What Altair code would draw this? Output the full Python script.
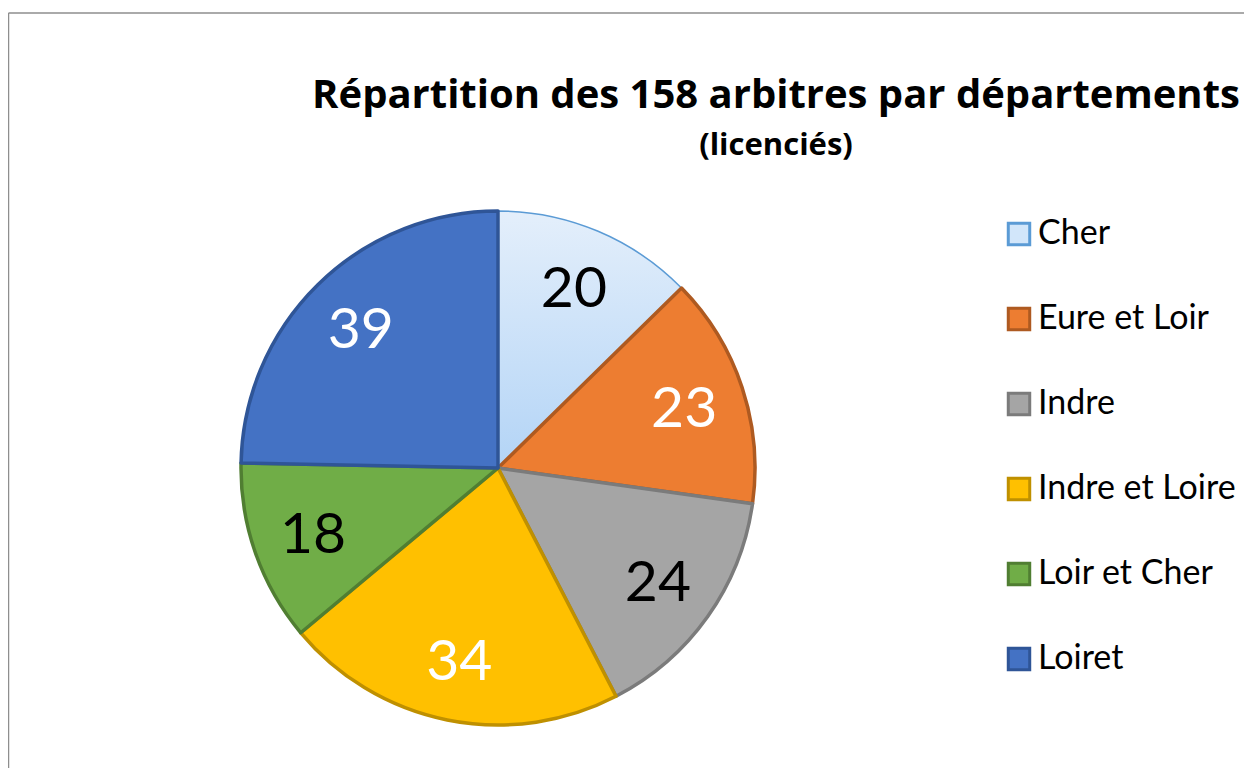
import altair as alt
import pandas as pd

departements = ["Cher", "Eure et Loir", "Indre", "Indre et Loire", "Loir et Cher", "Loiret"]
arbitres = [20, 23, 24, 34, 18, 39]
fill_colors = ["#D2E6FA", "#ED7D31", "#A5A5A5", "#FFC000", "#70AD47", "#4472C4"]
stroke_colors = ["#5B9BD5", "#AE5A21", "#7B7B7B", "#BF9000", "#507E32", "#2F5597"]
label_white = ["Eure et Loir", "Indre et Loire", "Loiret"]
title_lines = ["Répartition des 158 arbitres par départements"]
subtitle_lines = ["(licenciés)"]

FONT = "Lato"
TITLE_FONT = "Open Sans"

df = pd.DataFrame({
    "dept": departements,
    "n": arbitres,
    "idx": list(range(len(departements))),
})

cher_gradient = {
    "gradient": "linear",
    "x1": 0, "y1": 0, "x2": 0, "y2": 1,
    "stops": [
        {"offset": 0, "color": "#E4EFFB"},
        {"offset": 1, "color": "#B3D4F6"},
    ],
}

CX, CY, R = 490, 460, 257

base = alt.Chart(df)

fill_enc = alt.condition(
    alt.datum.dept == "Cher",
    alt.value(cher_gradient),
    alt.Fill(
        "dept:N",
        scale=alt.Scale(domain=departements, range=fill_colors),
        legend=alt.Legend(
            title=None,
            orient="none",
            legendX=994,
            legendY=209,
            symbolType="square",
            symbolSize=460,
            symbolStrokeWidth=3,
            labelFont=FONT,
            labelFontSize=34,
            labelColor="#000000",
            labelOffset=2,
            rowPadding=51,
            padding=0,
            labelLimit=400,
        ),
    ),
)

arcs = base.mark_arc(outerRadius=R, strokeJoin="round").encode(
    theta=alt.Theta("n:Q", stack=True),
    order=alt.Order("idx:Q"),
    fill=fill_enc,
    stroke=alt.Stroke(
        "dept:N",
        scale=alt.Scale(domain=departements, range=stroke_colors),
        legend=None,
    ),
    strokeWidth=alt.condition(alt.datum.dept == "Cher", alt.value(1.5), alt.value(3.5)),
    x=alt.value(CX),
    y=alt.value(CY),
)

labels = base.mark_text(radius=196, dy=3, font=FONT, fontSize=57, align="center", baseline="middle").encode(
    theta=alt.Theta("n:Q", stack=True),
    order=alt.Order("idx:Q"),
    text=alt.Text("n:Q"),
    color=alt.condition(
        alt.FieldOneOfPredicate(field="dept", oneOf=label_white),
        alt.value("#FFFFFF"),
        alt.value("#000000"),
    ),
    x=alt.value(CX),
    y=alt.value(CY),
)

title = alt.Chart(pd.DataFrame({"t": title_lines})).mark_text(
    font=TITLE_FONT, fontSize=40, fontWeight="bold", align="center", baseline="alphabetic", color="#000000"
).encode(text="t:N", x=alt.value(768), y=alt.value(100))

subtitle = alt.Chart(pd.DataFrame({"t": subtitle_lines})).mark_text(
    font=TITLE_FONT, fontSize=31, fontWeight="bold", align="center", baseline="alphabetic", color="#000000"
).encode(text="t:N", x=alt.value(768), y=alt.value(147))

border_top = alt.Chart(pd.DataFrame({"a": [0]})).mark_rule(color="#8E8E8E", strokeWidth=1.5).encode(
    x=alt.value(0.5), x2=alt.value(1236), y=alt.value(5)
)
border_left = alt.Chart(pd.DataFrame({"a": [0]})).mark_rule(color="#8E8E8E", strokeWidth=1.5).encode(
    x=alt.value(0.5), y=alt.value(5), y2=alt.value(760)
)

chart = alt.layer(border_top, border_left, arcs, labels, title, subtitle).resolve_scale(
    theta="shared"
).properties(
    width=1236,
    height=760,
    padding=0,
    autosize=alt.AutoSizeParams(type="none"),
    background="#FFFFFF",
).configure_view(strokeWidth=0)

chart.save("out.html", embed_options={"renderer": "svg", "actions": False})
